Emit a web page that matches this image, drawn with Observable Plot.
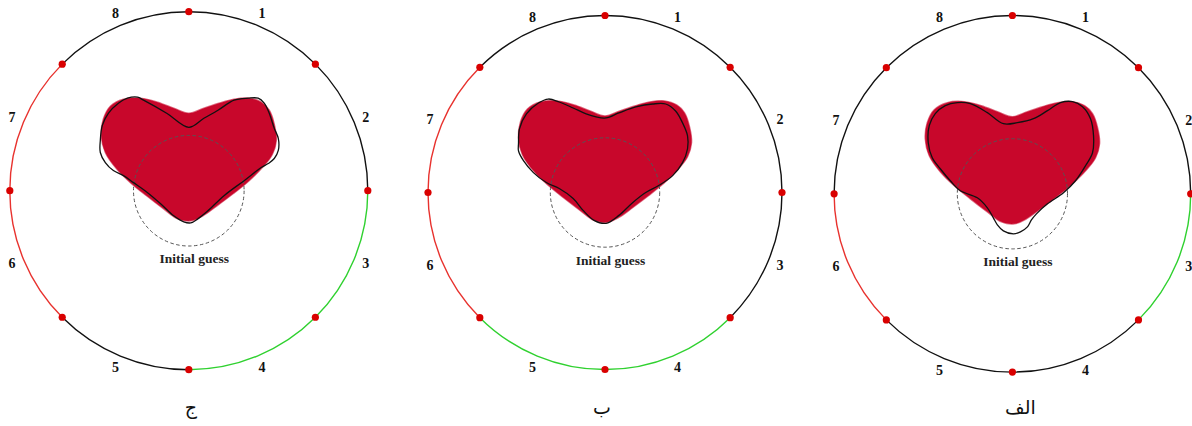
<!DOCTYPE html>
<html>
<head>
<meta charset="utf-8">
<script src="https://cdn.jsdelivr.net/npm/d3@7"></script>
<script src="https://cdn.jsdelivr.net/npm/@observablehq/plot@0.6"></script>
<style>
  html, body { margin: 0; padding: 0; background: #fff; overflow: hidden; }
  #chart { width: 1192px; height: 426px; }
</style>
</head>
<body>
<div id="chart"></div>
<script>
// ---------- DATA ----------
const panelLabels = ["ج", "ب", "الف"];
const sensorLabels = ["1", "2", "3", "4", "5", "6", "7", "8"];
const guessLabel = "Initial guess";

// status of each boundary segment 1..8 (clockwise from top)
const segmentStatusJ   = ["off", "off", "good", "good", "off", "bad", "bad", "off"];
const segmentStatusB   = ["off", "off", "off", "good", "good", "bad", "bad", "off"];
const segmentStatusAlf = ["off", "off", "good", "off", "off", "bad", "off", "off"];

// initial guess radius (units: outer boundary radius = 178)
const initialGuessRadius = 55;

// true inclusion (heart) outline, units with outer radius = 178, x right, y down
const trueHeart = [[0,-77],[15,-82],[30,-87],[45,-91],[60,-92],[72,-88],[80,-80],[85,-66],[87,-50],[83,-36],
  [74,-24],[60,-10],[44,3],[28,15],[14,25],[2,30],[-11,28],[-25,18],[-42,5],[-58,-8],[-72,-22],[-83,-38],
  [-87,-55],[-85,-71],[-78,-84],[-65,-91],[-48,-92],[-31,-88],[-15,-82]];

// reconstructed outlines
const reconJ = [[-88,-50],[-86,-65],[-80,-77],[-70,-87],[-61,-92],[-51,-93],[-45,-90],[-22,-77],[0,-63],
  [15,-72],[29,-80],[45,-90],[59,-92],[69,-92],[75,-87],[80,-77],[85,-62],[89,-52],[89,-40],[85,-32],[79,-27],
  [72,-23],[55,-10],[35,5],[19,20],[9,28],[2,32],[-5,31],[-15,25],[-28,13],[-41,2],[-55,-8],[-65,-15],
  [-75,-20],[-83,-28],[-88,-38]];
const reconB = [[-87,-49],[-86,-64],[-79,-79],[-67,-90],[-57,-94],[-46,-91],[-32,-85],[-19,-79],[-9,-76],
  [1,-75],[14,-80],[31,-86],[48,-89],[61,-89],[71,-82],[78,-70],[83,-57],[83,-44],[78,-30],[68,-17],[54,-7],
  [41,0],[28,10],[14,23],[1,31],[-11,28],[-22,18],[-32,6],[-46,-4],[-59,-10],[-72,-20],[-82,-32],[-87,-42]];
const reconAlf = [[-84,-51],[-83,-68],[-77,-80],[-67,-88],[-55,-91],[-42,-90],[-25,-81],[-9,-70],[5,-71],
  [21,-75],[35,-83],[48,-91],[60,-92],[70,-87],[78,-75],[81,-58],[80,-41],[73,-28],[63,-13],[51,-1],[35,10],
  [24,20],[19,26],[15,33],[8,38],[1,40],[-9,37],[-15,31],[-19,24],[-25,14],[-35,4],[-52,-3],[-62,-13],
  [-72,-25],[-80,-36]];

// ---------- LAYOUT ----------
const panels = [
  {label: panelLabels[0], cx: 188.3, cy: 190.2, R: 179, status: segmentStatusJ, recon: reconJ, capDx: 2},
  {label: panelLabels[1], cx: 604.5, cy: 192, R: 177, status: segmentStatusB, recon: reconB, capDx: -3},
  {label: panelLabels[2], cx: 1011.9, cy: 193.3, R: 178.3, status: segmentStatusAlf, recon: reconAlf, capDx: 8}
];

const arcs = [], sensors = [], numbers = [], hearts = [], recons = [], guesses = [], guessTexts = [], captions = [];
panels.forEach((p, i) => {
  const s = p.R / 178;
  const pt = (deg, r) => [p.cx + r * Math.sin(deg * Math.PI / 180), p.cy - r * Math.cos(deg * Math.PI / 180)];
  for (let k = 0; k < 8; k++) {
    const [x1, y1] = pt(k * 45, p.R);
    const [x2, y2] = pt((k + 1) * 45, p.R);
    arcs.push({x1, y1, x2, y2, status: p.status[k]});
    sensors.push({x: x1, y: y1});
    const [lx, ly] = pt(k * 45 + 22.5, p.R + 12.5);
    numbers.push({x: lx, y: ly, text: sensorLabels[k]});
  }
  trueHeart.forEach(([u, v]) => hearts.push({panel: i, x: p.cx + u * s, y: p.cy + v * s}));
  p.recon.forEach(([u, v]) => recons.push({panel: i, x: p.cx + u * s, y: p.cy + v * s}));
  guesses.push({x: p.cx, y: p.cy, r: initialGuessRadius * s});
  guessTexts.push({x: p.cx + 5.5, y: p.cy + 72.5, text: guessLabel});
  captions.push({x: p.cx + p.capDx, y: 413, text: p.label});
});

const serif = "'Liberation Serif', 'Times New Roman', 'DejaVu Serif', serif";
const W = 1192, H = 426;
const chart = Plot.plot({
  width: W, height: H,
  margin: 0,
  x: {domain: [0, W], range: [0, W], axis: null},
  y: {domain: [0, H], range: [0, H], axis: null},
  r: {type: "identity"},
  color: {domain: ["off", "good", "bad"], range: ["#111111", "#2fd12f", "#e8322e"]},
  style: {background: "#fff", overflow: "hidden"},
  marks: [
    Plot.line(hearts, {x: "x", y: "y", z: "panel", curve: "catmull-rom-closed", fill: "#c8072b", stroke: "#c8072b", strokeWidth: 1.5, strokeOpacity: 0.6}),
    Plot.dot(guesses, {x: "x", y: "y", r: "r", fill: "none", stroke: "#555", strokeWidth: 1, strokeDasharray: "3.5,2.5"}),
    Plot.line(recons, {x: "x", y: "y", z: "panel", curve: "catmull-rom-closed", stroke: "#111", strokeWidth: 1.3}),
    Plot.arrow(arcs, {x1: "x1", y1: "y1", x2: "x2", y2: "y2", bend: 22.5, headLength: 0, stroke: "status", strokeWidth: 1.4}),
    Plot.dot(sensors, {x: "x", y: "y", r: 3.6, fill: "#d90000", stroke: "none"}),
    Plot.text(numbers, {x: "x", y: "y", text: "text", fontFamily: serif, fontWeight: "bold", fontSize: 14, fill: "#111"}),
    Plot.text(guessTexts, {x: "x", y: "y", text: "text", lineAnchor: "bottom", fontFamily: serif, fontWeight: "bold", fontSize: 13.5, fill: "#222"}),
    Plot.text(captions, {x: "x", y: "y", text: "text", lineAnchor: "bottom", fontFamily: "'DejaVu Sans', 'Noto Sans', sans-serif", fontSize: 19, fill: "#111"})
  ]
});
document.getElementById("chart").appendChild(chart);
</script>
</body>
</html>
